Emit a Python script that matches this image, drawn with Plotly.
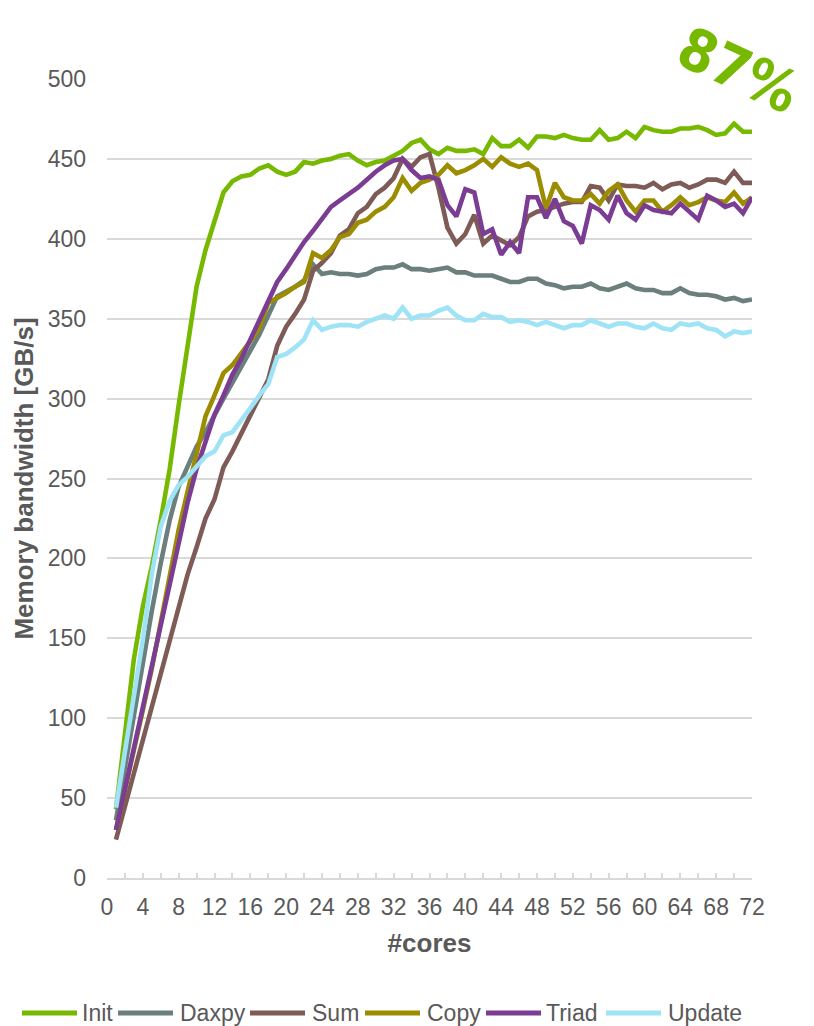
import plotly.graph_objects as go

cores = list(range(1, 73))

init = [43, 90, 137, 170, 195, 224, 256, 296, 332, 370, 393, 412, 429, 436, 439, 440, 444, 446, 442, 440,
        442, 448, 447, 449, 450, 452, 453, 449, 446, 448, 449, 452, 455, 460, 462, 456, 453, 457, 455, 455,
        456, 453, 463, 458, 458, 462, 457, 464, 464, 463, 465, 463, 462, 462, 468, 462, 463, 467, 463, 470,
        468, 467, 467, 469, 469, 470, 468, 465, 466, 472, 467, 467]
daxpy = [36, 69, 102, 136, 167, 197, 224, 245, 257, 270, 279, 290, 300, 310, 320, 330, 340, 352, 364, 367,
         370, 374, 384, 378, 379, 378, 378, 377, 378, 381, 382, 382, 384, 381, 381, 380, 381, 382, 379, 379,
         377, 377, 377, 375, 373, 373, 375, 375, 372, 371, 369, 370, 370, 372, 369, 368, 370, 372, 369, 368,
         368, 366, 366, 369, 366, 365, 365, 364, 362, 363, 361, 362]
sum_ = [24, 45, 66, 87, 108, 129, 150, 170, 190, 207, 225, 237, 257, 267, 278, 290, 301, 312, 333, 345,
        353, 362, 380, 385, 391, 402, 406, 416, 420, 428, 432, 438, 450, 445, 451, 453, 432, 407, 397, 403,
        415, 397, 402, 399, 396, 401, 414, 417, 418, 420, 422, 423, 423, 433, 432, 424, 434, 433, 433, 432,
        435, 431, 434, 435, 432, 434, 437, 437, 435, 442, 435, 435]
copy = [30, 54, 80, 105, 131, 160, 188, 218, 242, 265, 289, 302, 316, 321, 328, 336, 344, 360, 363, 366,
        370, 373, 391, 388, 393, 401, 403, 410, 412, 417, 420, 426, 438, 430, 435, 437, 440, 446, 441, 443,
        446, 450, 445, 451, 447, 445, 447, 443, 419, 435, 426, 424, 424, 428, 422, 430, 434, 424, 417, 424,
        424, 417, 421, 426, 421, 423, 426, 424, 423, 429, 422, 426]
triad = [30, 56, 82, 108, 134, 160, 185, 210, 235, 256, 273, 290, 302, 315, 325, 337, 350, 362, 373, 381,
         390, 398, 405, 413, 420, 424, 428, 432, 437, 442, 446, 449, 450, 443, 438, 439, 437, 421, 414, 431,
         429, 403, 406, 390, 398, 391, 426, 426, 413, 425, 411, 408, 397, 421, 418, 412, 427, 416, 412, 421,
         418, 417, 416, 422, 417, 412, 427, 424, 420, 422, 416, 426]
update = [44, 80, 115, 149, 190, 220, 236, 246, 251, 257, 264, 267, 277, 279, 286, 294, 302, 309, 326, 328,
          332, 337, 349, 343, 345, 346, 346, 345, 348, 350, 352, 350, 357, 350, 352, 352, 355, 357, 352, 349,
          349, 353, 351, 351, 348, 349, 348, 346, 348, 346, 344, 346, 346, 349, 347, 345, 347, 347, 345, 344,
          347, 344, 343, 347, 346, 347, 344, 343, 339, 342, 341, 342]

series_names = ["Init", "Daxpy", "Sum", "Copy", "Triad", "Update"]
series_values = [init, daxpy, sum_, copy, triad, update]
series_colors = ["#76B900", "#6B7F7C", "#7F5B58", "#9C8C00", "#7B3C93", "#9FE3F6"]

x_ticks = list(range(0, 73, 4))
y_ticks = list(range(0, 501, 50))

FONT = "Liberation Sans, Arial, sans-serif"
TXT = "#595959"
GRID = "#D9D9D9"

# page has an 8px body margin: figure coordinates = page coordinates - 8
OFF = 8
W, H = 806, 1018
ML, MT = 107 - OFF, 79 - OFF
MR = W - (752 - OFF)
MB = H - (878 - OFF)
PW, PH = W - ML - MR, H - MT - MB

def px_x(px):
    return (px - OFF - ML) / PW

def px_y(py):
    return (H - MB - (py - OFF)) / PH

fig = go.Figure()
for name, vals, col in zip(series_names, series_values, series_colors):
    fig.add_trace(go.Scatter(x=cores, y=vals, mode="lines", name=name,
                             line=dict(color=col, width=4.6), showlegend=False))

# legend drawn as line swatches + text (layout positions in page pixels)
legend_line_x = [22, 118, 250, 365, 486, 606]
legend_text_x = [80, 178, 310, 425, 544, 666]
legend_y = 1013
for name, col, lx, tx in zip(series_names, series_colors, legend_line_x, legend_text_x):
    fig.add_shape(type="line", xref="paper", yref="paper",
                  x0=px_x(lx), x1=px_x(lx + 55), y0=px_y(legend_y), y1=px_y(legend_y),
                  line=dict(color=col, width=5))
    fig.add_annotation(xref="paper", yref="paper", x=px_x(tx), y=px_y(legend_y),
                       xanchor="left", yanchor="middle", text=name, showarrow=False,
                       font=dict(family=FONT, size=23, color=TXT))

fig.add_annotation(xref="paper", yref="paper", x=px_x(738), y=px_y(70),
                   xanchor="center", yanchor="middle", text="<b>87%</b>", showarrow=False,
                   textangle=25,
                   font=dict(family="Liberation Sans Narrow, DejaVu Sans Condensed, sans-serif",
                             size=58, color="#76B900"))

fig.update_layout(
    width=W, height=H,
    margin=dict(l=ML, r=MR, t=MT, b=MB),
    paper_bgcolor="white", plot_bgcolor="white",
    font=dict(family=FONT, size=23, color=TXT),
    showlegend=False,
)
fig.update_xaxes(
    range=[0, 72], tickvals=x_ticks, ticktext=[str(v) for v in x_ticks],
    showgrid=False, zeroline=False,
    showline=True, linecolor=GRID, linewidth=1.5,
    ticks="inside", ticklen=5, tickcolor=GRID, tickwidth=1.5,
    minor=dict(dtick=2, tick0=0, ticks="inside", ticklen=5, tickcolor=GRID, tickwidth=1.5, showgrid=False),
    tickfont=dict(family=FONT, size=23, color=TXT),
    ticklabelstandoff=8,
    title=dict(text="<b>#cores</b>", font=dict(family=FONT, size=26, color=TXT), standoff=14),
)
fig.update_yaxes(
    range=[0, 500], tickvals=y_ticks,
    showgrid=True, gridcolor=GRID, gridwidth=1.5,
    zeroline=False, showline=False, ticks="",
    tickfont=dict(family=FONT, size=23, color=TXT),
    ticklabelstandoff=20,
    title=dict(text="<b>Memory bandwidth [GB/s]</b>", font=dict(family=FONT, size=26, color=TXT), standoff=6),
)

fig.write_html("out.html")
